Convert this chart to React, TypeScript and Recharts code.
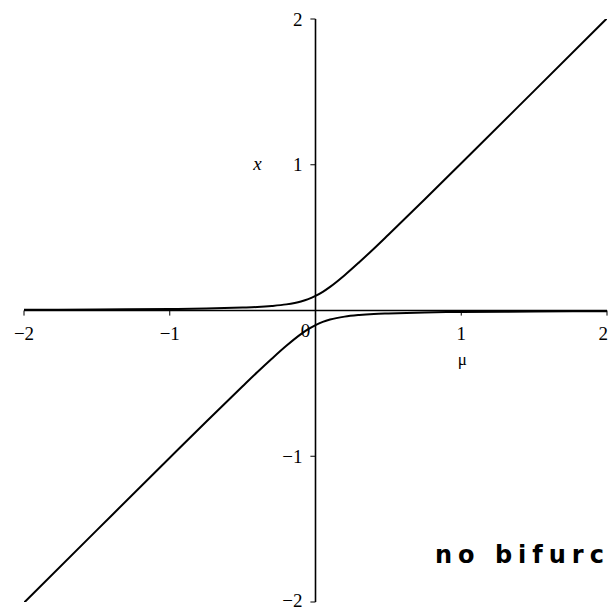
import React from 'react';
import { LineChart, Line, XAxis, YAxis, ReferenceLine, ReferenceDot } from 'recharts';

// Parameter values along the horizontal axis
const muValues = [-2, -1.5, -1, -0.75, -0.5, -0.4, -0.3, -0.2, -0.1, -0.05, 0, 0.05, 0.1, 0.2, 0.3, 0.4, 0.5, 0.75, 1, 1.5, 2];

// Upper equilibrium branch
const upperBranch = [0.005, 0.007, 0.01, 0.013, 0.02, 0.024, 0.031, 0.042, 0.062, 0.078, 0.1, 0.128, 0.162, 0.242, 0.331, 0.424, 0.52, 0.763, 1.01, 1.507, 2.005];

// Lower equilibrium branch
const lowerBranch = [-2.005, -1.507, -1.01, -0.763, -0.52, -0.424, -0.331, -0.242, -0.162, -0.128, -0.1, -0.078, -0.062, -0.042, -0.031, -0.024, -0.02, -0.013, -0.01, -0.007, -0.005];

const xTickValues = [-2, -1, 1, 2];
const xTickLabels = ['\u22122', '\u22121', '1', '2'];
const yTickValues = [-2, -1, 1, 2];
const yTickLabels = ['\u22122', '\u22121', '1', '2'];

const upperData = muValues.map((m, i) => ({ mu: m, x: upperBranch[i] }));
const lowerData = muValues.map((m, i) => ({ mu: m, x: lowerBranch[i] }));

const SERIF = '"Liberation Serif", "Times New Roman", "DejaVu Serif", serif';

type TextOpts = {
  dx: number;
  dy: number;
  anchor?: 'start' | 'middle' | 'end';
  size?: number;
  italic?: boolean;
  family?: string;
  weight?: string | number;
  spacing?: number;
  baseline?: string;
};

const textAt = (text: string, o: TextOpts) => (props: any) => {
  const vb = props.viewBox || { x: 0, y: 0, width: 0, height: 0 };
  const cx = vb.x + (vb.width || 0) / 2;
  const cy = vb.y + (vb.height || 0) / 2;
  return (
    <text
      x={cx + o.dx}
      y={cy + o.dy}
      textAnchor={o.anchor || 'middle'}
      dominantBaseline={o.baseline || 'central'}
      style={{
        fontFamily: o.family || SERIF,
        fontSize: o.size || 19,
        fontStyle: o.italic ? 'italic' : 'normal',
        fontWeight: o.weight || 'normal',
        letterSpacing: o.spacing || 0,
      }}
      fill="#000"
    >
      {text}
    </text>
  );
};

export default function App() {
  return (
    <div style={{ position: 'absolute', left: 0, top: 0, width: 609, height: 614, background: '#fff' }}>
      <LineChart width={609} height={614} margin={{ top: 19, right: 2, bottom: 12, left: 24 }}>
        <XAxis type="number" dataKey="mu" domain={[-2, 2]} hide allowDataOverflow />
        <YAxis type="number" dataKey="x" domain={[-2, 2]} hide allowDataOverflow />

        {/* axes through the origin */}
        <ReferenceLine y={0} stroke="#000" strokeWidth={1.6} />
        <ReferenceLine x={0} stroke="#000" strokeWidth={1.6} />

        {/* horizontal axis ticks and labels */}
        {xTickValues.map((t) => (
          <ReferenceLine
            key={'xt' + t}
            segment={[{ x: t, y: 0 }, { x: t, y: -0.035 }]}
            stroke="#000"
            strokeWidth={1}
          />
        ))}
        {xTickValues.map((t, i) => (
          <ReferenceDot
            key={'xl' + t}
            x={t}
            y={0}
            r={1}
            fill="none"
            stroke="none"
            label={{
              content: textAt(xTickLabels[i], {
                dx: t === 2 ? 1 : 0,
                dy: 23,
                anchor: t === 2 ? 'end' : 'middle',
              }),
            }}
          />
        ))}

        {/* vertical axis ticks and labels */}
        {yTickValues.map((t) => (
          <ReferenceLine
            key={'yt' + t}
            segment={[{ x: 0, y: t }, { x: -0.035, y: t }]}
            stroke="#000"
            strokeWidth={1}
          />
        ))}
        {yTickValues.map((t, i) => (
          <ReferenceDot
            key={'yl' + t}
            x={0}
            y={t}
            r={1}
            fill="none"
            stroke="none"
            label={{ content: textAt(yTickLabels[i], { dx: -13, dy: t === -2 ? -2 : 0, anchor: 'end' }) }}
          />
        ))}

        {/* origin label and axis names */}
        <ReferenceDot x={0} y={0} r={1} fill="none" stroke="none"
          label={{ content: textAt('0', { dx: -10, dy: 20 }) }} />
        <ReferenceDot x={0} y={1} r={1} fill="none" stroke="none"
          label={{ content: textAt('x', { dx: -58, dy: -1, italic: true }) }} />
        <ReferenceDot x={1} y={0} r={1} fill="none" stroke="none"
          label={{ content: textAt('\u03bc', { dx: 1, dy: 49, size: 17 }) }} />

        {/* handwritten note */}
        <ReferenceDot x={0.82} y={-1.73} r={1} fill="none" stroke="none"
          label={{
            content: textAt('no bifurc', {
              dx: 0,
              dy: 0,
              anchor: 'start',
              size: 24,
              family: '"DejaVu Sans", sans-serif',
              weight: 600,
              spacing: 6,
              baseline: 'alphabetic',
            }),
          }} />

        <Line data={upperData} dataKey="x" type="monotone" stroke="#000" strokeWidth={2} dot={false} isAnimationActive={false} />
        <Line data={lowerData} dataKey="x" type="monotone" stroke="#000" strokeWidth={2} dot={false} isAnimationActive={false} />
      </LineChart>
    </div>
  );
}
